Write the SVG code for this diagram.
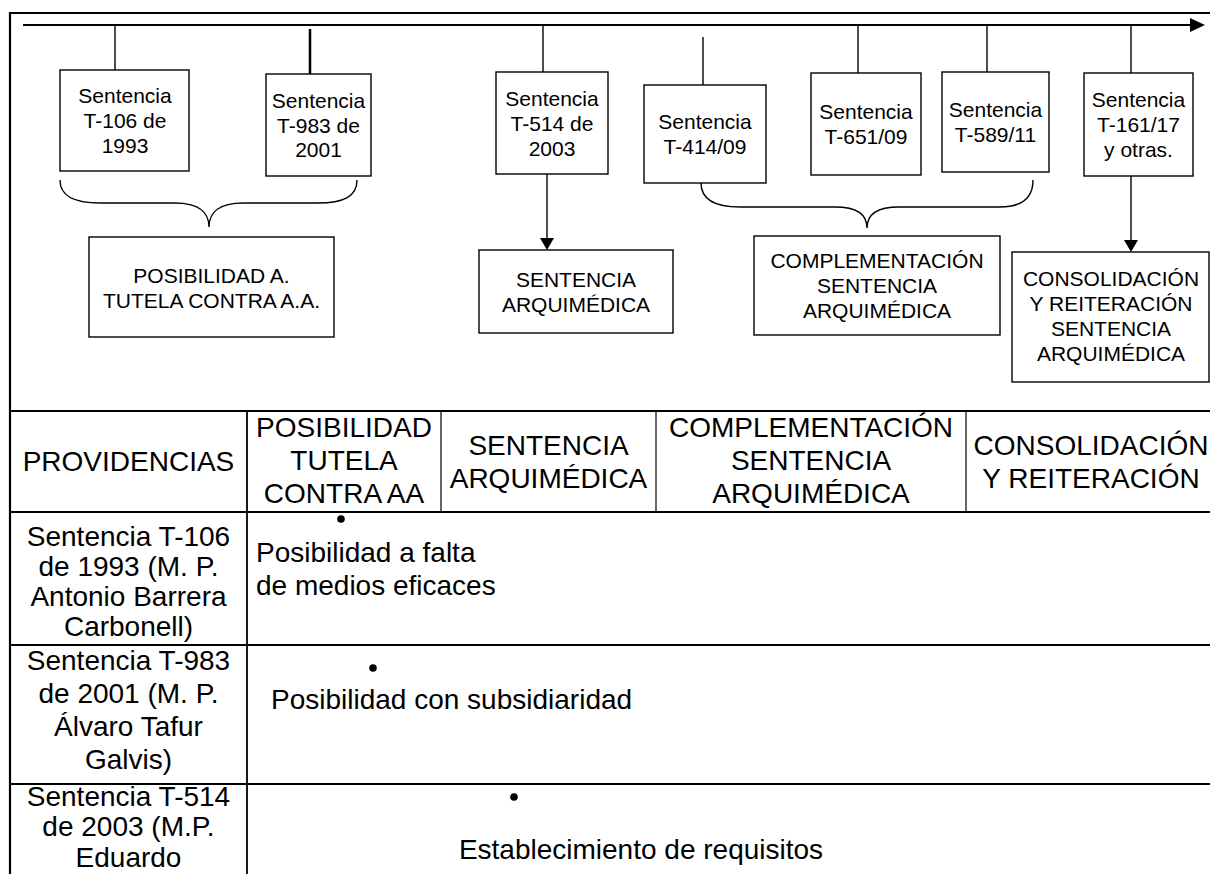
<svg xmlns="http://www.w3.org/2000/svg" width="1210" height="874" viewBox="0 0 1210 874">
<style>
  .bg{fill:#fff}
  .box{fill:#fff;stroke:#000;stroke-width:1.4}
  .ln{fill:none;stroke:#000;stroke-width:1.4}
  .thick{fill:none;stroke:#000;stroke-width:2.2}
  .t21{font-family:"Liberation Sans",Arial,sans-serif;font-size:21px;fill:#000;text-anchor:middle}
  .t28{font-family:"Liberation Sans",Arial,sans-serif;font-size:28px;fill:#000;text-anchor:middle}
  .t28l{font-family:"Liberation Sans",Arial,sans-serif;font-size:28px;fill:#000}
</style>
<defs>
  <marker id="ah" viewBox="0 0 12 14" refX="2" refY="7" markerWidth="12" markerHeight="14" orient="auto" markerUnits="userSpaceOnUse">
    <path d="M0,0 L12,7 L0,14 Z" fill="#000"/>
  </marker>
  <marker id="ahT" viewBox="0 0 15 14" refX="3" refY="7" markerWidth="15" markerHeight="14" orient="auto" markerUnits="userSpaceOnUse">
    <path d="M0,0 L15,7 L0,14 Z" fill="#000"/>
  </marker>
</defs>
<rect class="bg" x="0" y="0" width="1210" height="874"/>

<g id="frame">
  <path class="thick" d="M10,874 L10,13 L1215,13"/>
</g>

<g id="connectors">
  <line class="thick" x1="23" y1="25" x2="1193" y2="25" marker-end="url(#ahT)"/>
  <line class="ln" x1="115" y1="25" x2="115" y2="70"/>
  <line class="ln" x1="310" y1="29" x2="310" y2="74" style="stroke-width:2.5"/>
  <line class="ln" x1="543" y1="25" x2="543" y2="72"/>
  <line class="ln" x1="703" y1="37" x2="703" y2="85"/>
  <line class="ln" x1="858" y1="25" x2="858" y2="73"/>
  <line class="ln" x1="987" y1="25" x2="987" y2="72"/>
  <line class="ln" x1="1131" y1="25" x2="1131" y2="73"/>
  <path class="ln" d="M60,180 C60,197 75,203 100,203 L175,203 C198,203 209,212 209,227 C209,212 220,203 243,203 L318,203 C343,203 357,197 357,180"/>
  <path class="ln" d="M701,183 C701,200 715,207 740,207 L835,207 C857,207 867,215 867,228 C867,215 877,207 899,207 L1000,207 C1022,207 1033,198 1033,180"/>
  <line class="ln" x1="547" y1="174" x2="547" y2="240" marker-end="url(#ah)"/>
  <line class="ln" x1="1131" y1="176" x2="1131" y2="242" marker-end="url(#ah)"/>
</g>

<g id="node-t106">
  <rect class="box" x="60" y="70" width="129" height="101"/>
  <text class="t21" x="125" y="103">Sentencia</text>
  <text class="t21" x="125" y="128">T-106 de</text>
  <text class="t21" x="125" y="153">1993</text>
</g>
<g id="node-t983">
  <rect class="box" x="266" y="74" width="105" height="102"/>
  <text class="t21" x="318.5" y="108">Sentencia</text>
  <text class="t21" x="318.5" y="133">T-983 de</text>
  <text class="t21" x="318.5" y="157">2001</text>
</g>
<g id="node-t514">
  <rect class="box" x="496" y="72" width="112" height="102"/>
  <text class="t21" x="552" y="106">Sentencia</text>
  <text class="t21" x="552" y="131">T-514 de</text>
  <text class="t21" x="552" y="156">2003</text>
</g>
<g id="node-t414">
  <rect class="box" x="644" y="85" width="122" height="98"/>
  <text class="t21" x="705" y="129">Sentencia</text>
  <text class="t21" x="705" y="154">T-414/09</text>
</g>
<g id="node-t651">
  <rect class="box" x="811" y="73" width="110" height="102"/>
  <text class="t21" x="866" y="119">Sentencia</text>
  <text class="t21" x="866" y="144">T-651/09</text>
</g>
<g id="node-t589">
  <rect class="box" x="942" y="72" width="107" height="100"/>
  <text class="t21" x="995.5" y="117">Sentencia</text>
  <text class="t21" x="995.5" y="142">T-589/11</text>
</g>
<g id="node-t161">
  <rect class="box" x="1084" y="73" width="109" height="103"/>
  <text class="t21" x="1138.5" y="107">Sentencia</text>
  <text class="t21" x="1138.5" y="132">T-161/17</text>
  <text class="t21" x="1138.5" y="157">y otras.</text>
</g>
<g id="node-posibilidad">
  <rect class="box" x="89" y="237" width="245" height="100"/>
  <text class="t21" x="211.5" y="283">POSIBILIDAD A.</text>
  <text class="t21" x="211.5" y="308">TUTELA CONTRA A.A.</text>
</g>
<g id="node-arquimedica">
  <rect class="box" x="479" y="250" width="194" height="83"/>
  <text class="t21" x="576" y="287">SENTENCIA</text>
  <text class="t21" x="576" y="312">ARQUIMÉDICA</text>
</g>
<g id="node-complementacion">
  <rect class="box" x="754" y="236" width="246" height="99"/>
  <text class="t21" x="877" y="268">COMPLEMENTACIÓN</text>
  <text class="t21" x="877" y="293">SENTENCIA</text>
  <text class="t21" x="877" y="318">ARQUIMÉDICA</text>
</g>
<g id="node-consolidacion">
  <rect class="box" x="1012" y="252" width="197" height="130"/>
  <text class="t21" x="1111" y="286">CONSOLIDACIÓN</text>
  <text class="t21" x="1111" y="311">Y REITERACIÓN</text>
  <text class="t21" x="1111" y="336">SENTENCIA</text>
  <text class="t21" x="1111" y="361">ARQUIMÉDICA</text>
</g>

<g id="table">
  <g id="table-lines">
    <line class="thick" x1="10" y1="411" x2="1215" y2="411"/>
    <line class="thick" x1="10" y1="512" x2="1215" y2="512"/>
    <line class="ln" x1="10" y1="645" x2="1215" y2="645" style="stroke-width:1.8"/>
    <line class="ln" x1="10" y1="784" x2="1215" y2="784" style="stroke-width:1.8"/>
    <line class="ln" x1="247" y1="411" x2="247" y2="880" style="stroke-width:1.8"/>
    <line class="ln" x1="441" y1="411" x2="441" y2="512" style="stroke-width:1.2"/>
    <line class="ln" x1="656" y1="411" x2="656" y2="512" style="stroke-width:1.2"/>
    <line class="ln" x1="966" y1="411" x2="966" y2="512" style="stroke-width:1.2"/>
  </g>
  <g id="table-header">
    <text class="t28" x="128.5" y="471">PROVIDENCIAS</text>
    <text class="t28" x="344" y="437">POSIBILIDAD</text>
    <text class="t28" x="344" y="470">TUTELA</text>
    <text class="t28" x="344" y="503">CONTRA AA</text>
    <text class="t28" x="548.5" y="455">SENTENCIA</text>
    <text class="t28" x="548.5" y="488">ARQUIMÉDICA</text>
    <text class="t28" x="811" y="437">COMPLEMENTACIÓN</text>
    <text class="t28" x="811" y="470">SENTENCIA</text>
    <text class="t28" x="811" y="503">ARQUIMÉDICA</text>
    <text class="t28" x="1091" y="455">CONSOLIDACIÓN</text>
    <text class="t28" x="1091" y="488">Y REITERACIÓN</text>
  </g>
  <g id="row-t106">
    <text class="t28" x="128.5" y="546">Sentencia T-106</text>
    <text class="t28" x="128.5" y="576">de 1993 (M. P.</text>
    <text class="t28" x="128.5" y="606">Antonio Barrera</text>
    <text class="t28" x="128.5" y="636">Carbonell)</text>
    <circle cx="341" cy="519" r="3.8" fill="#000"/>
    <text class="t28l" x="256" y="562">Posibilidad a falta</text>
    <text class="t28l" x="256" y="595">de medios eficaces</text>
  </g>
  <g id="row-t983">
    <text class="t28" x="128.5" y="670">Sentencia T-983</text>
    <text class="t28" x="128.5" y="703">de 2001 (M. P.</text>
    <text class="t28" x="128.5" y="736">Álvaro Tafur</text>
    <text class="t28" x="128.5" y="769">Galvis)</text>
    <circle cx="373" cy="668" r="3.8" fill="#000"/>
    <text class="t28l" x="271" y="709">Posibilidad con subsidiaridad</text>
  </g>
  <g id="row-t514">
    <text class="t28" x="128.5" y="806">Sentencia T-514</text>
    <text class="t28" x="128.5" y="836">de 2003 (M.P.</text>
    <text class="t28" x="128.5" y="867">Eduardo</text>
    <circle cx="514" cy="797" r="3.8" fill="#000"/>
    <text class="t28" x="641" y="859">Establecimiento de requisitos</text>
  </g>
</g>
</svg>
